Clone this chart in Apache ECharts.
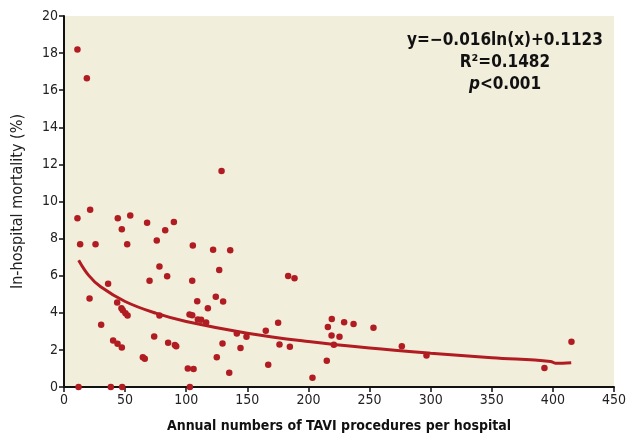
<!DOCTYPE html>
<html>
<head>
<meta charset="utf-8">
<script src="https://cdn.jsdelivr.net/npm/echarts@6/dist/echarts.min.js"></script>
<style>
  html, body { margin: 0; padding: 0; background: #fff; }
  #chart { width: 633px; height: 438px; }
</style>
</head>
<body>
<div id="chart"></div>
<script>
// hospitals: annual TAVI numbers vs in-hospital mortality (%)
const procedures = [
  11, 18.7, 21.4, 11, 13.2, 25.8, 44, 54.2, 47.3, 51.7,
  68, 82.8, 89.9, 75.9, 105.4, 78.1, 70, 84.4, 36.1, 104.9,
  20.9, 43.5, 47, 48.1, 50.3, 52, 109, 117.7, 78.1, 102.7,
  104.9, 109.5, 112.2, 116.3, 30.4, 40.2, 43.8, 47.3, 73.8, 85.2,
  90.7, 91.8, 64.5, 66.1, 101.3, 106, 11.9, 38.3, 47.6, 103,
  128.9, 122, 136, 127, 124.2, 130.2, 183.4, 188.6, 141.4, 149.3,
  129.7, 144.4, 125, 135.2, 165.1, 175.2, 176.3, 184.8, 167.1, 203.3,
  215.9, 219.1, 229.2, 236.9, 253.2, 218.9, 225.4, 220.8, 215, 276.4,
  296.6, 393.1, 415.2
];
const mortality = [
  18.2, 16.65, 9.55, 9.1, 7.7, 7.7, 9.1, 9.25, 8.5, 7.7,
  8.85, 8.45, 8.9, 7.9, 7.63, 6.5, 5.73, 5.97, 5.57, 5.73,
  4.77, 4.55, 4.25, 4.14, 3.98, 3.85, 4.62, 4.25, 3.85, 3.91,
  3.87, 3.64, 3.62, 3.48, 3.35, 2.51, 2.33, 2.13, 2.72, 2.38,
  2.26, 2.2, 1.61, 1.52, 1.0, 0.97, 0, 0, 0, 0,
  11.65, 7.4, 7.37, 6.31, 4.86, 4.61, 5.99, 5.86, 2.89, 2.71,
  2.35, 2.1, 1.6, 0.77, 3.03, 3.46, 2.29, 2.17, 1.2, 0.5,
  3.24, 3.67, 3.49, 3.39, 3.19, 2.78, 2.71, 2.28, 1.42, 2.2,
  1.7, 1.02, 2.44
];

// trend curve
const curveX = [12, 20, 30, 50, 75, 100, 150, 200, 250, 300, 350, 398, 402, 415];
const curveY = [6.83, 6.03, 5.4, 4.61, 3.98, 3.53, 2.9, 2.45, 2.1, 1.82, 1.58, 1.38, 1.28, 1.31];

const xTicks = { min: 0, max: 450, interval: 50 };
const yTicks = { min: 0, max: 20, interval: 2 };

const eqLines = ['y=\u22120.016ln(x)+0.1123', 'R\u00b2=0.1482'];

const RED = '#b01c21';
const FONT = '"DejaVu Sans Condensed", "Liberation Sans Narrow", sans-serif';

let chart = echarts.init(document.getElementById('chart'));
let option = {
  animation: false,
  textStyle: { fontFamily: FONT },
  grid: {
    left: 64,
    right: 19,
    top: 16,
    bottom: 50,
    show: true,
    backgroundColor: '#f2eedc',
    borderWidth: 0
  },
  xAxis: {
    type: 'value',
    min: xTicks.min,
    max: xTicks.max,
    interval: xTicks.interval,
    name: 'Annual numbers of TAVI procedures per hospital',
    nameLocation: 'middle',
    nameGap: 32,
    nameTextStyle: { fontFamily: FONT, fontSize: 14, fontWeight: 'bold', color: '#111' },
    axisLine: { lineStyle: { color: '#111', width: 2 } },
    axisTick: { length: 5, lineStyle: { color: '#111', width: 1.5 } },
    axisLabel: { fontFamily: FONT, fontSize: 14, color: '#222', margin: 6 },
    splitLine: { show: false }
  },
  yAxis: {
    type: 'value',
    min: yTicks.min,
    max: yTicks.max,
    interval: yTicks.interval,
    name: 'In-hospital mortality (%)',
    nameLocation: 'middle',
    nameGap: 38,
    nameTextStyle: { fontFamily: FONT, fontSize: 16, color: '#222' },
    axisLine: { show: true, lineStyle: { color: '#111', width: 2 } },
    axisTick: { show: true, length: 5, lineStyle: { color: '#111', width: 1.5 } },
    axisLabel: { fontFamily: FONT, fontSize: 14, color: '#222', margin: 6 },
    splitLine: { show: false }
  },
  series: [
    {
      type: 'line',
      data: curveX.map((x, i) => [x, curveY[i]]),
      smooth: 0.4,
      symbol: 'none',
      lineStyle: { color: RED, width: 3 },
      z: 3
    },
    {
      type: 'scatter',
      data: procedures.map((x, i) => [x, mortality[i]]),
      symbolSize: 6.5,
      itemStyle: { color: RED, opacity: 1 },
      clip: false,
      z: 4
    }
  ],
  graphic: [
    {
      type: 'text',
      x: 505,
      y: 30,
      style: {
        text: eqLines.join('\n') + '\n{i|p}<0.001',
        rich: {
          i: { fontStyle: 'italic', fontWeight: 'bold', fontSize: 17, fontFamily: FONT, fill: '#111' }
        },
        fontFamily: FONT,
        fontSize: 17,
        fontWeight: 'bold',
        lineHeight: 22,
        fill: '#111',
        align: 'center',
        verticalAlign: 'top'
      }
    }
  ]
};
chart.setOption(option);
</script>
</body>
</html>
